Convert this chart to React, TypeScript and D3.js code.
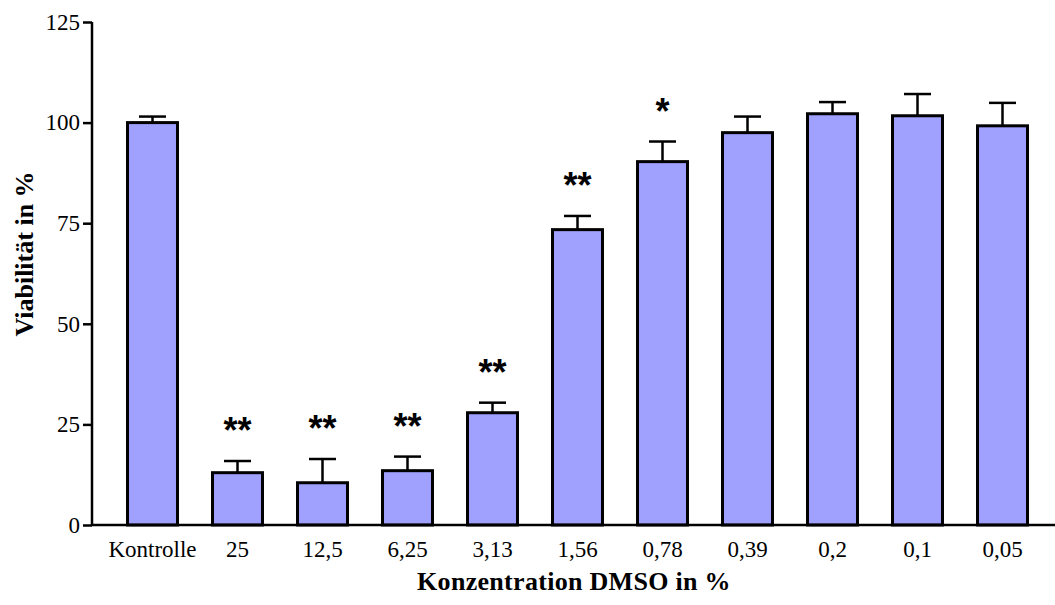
import React, { useRef, useEffect } from 'react';
import * as d3 from 'd3';

const categories = ['Kontrolle', '25', '12,5', '6,25', '3,13', '1,56', '0,78', '0,39', '0,2', '0,1', '0,05'];
const means = [100, 13.0, 10.5, 13.5, 27.9, 73.4, 90.3, 97.5, 102.2, 101.7, 99.2];
const errors = [1.5, 2.9, 5.9, 3.5, 2.5, 3.4, 5.0, 4.0, 2.9, 5.4, 5.7];
const stars = ['', '**', '**', '**', '**', '**', '*', '', '', '', ''];
const yTicks = [0, 25, 50, 75, 100, 125];

const App = () => {
  const ref = useRef<SVGSVGElement>(null);

  useEffect(() => {
    const svg = d3.select(ref.current);
    svg.selectAll('*').remove();

    const width = 1055;
    const height = 605;
    const axisX = 92;
    const serif = '"Liberation Serif", "Times New Roman", serif';

    const data = categories.map((c, i) => ({ c, m: means[i], e: errors[i], s: stars[i] }));

    const x = d3.scaleBand().domain(categories).range([110, 1045]).paddingInner(0.412).paddingOuter(0.206);
    const y = d3.scaleLinear().domain([0, 125]).range([525, 22]);

    // bars
    svg.append('g').selectAll('rect').data(data).join('rect')
      .attr('x', d => x(d.c)!).attr('y', d => y(d.m))
      .attr('width', x.bandwidth()).attr('height', d => y(0) - y(d.m))
      .attr('fill', '#a0a0ff').attr('stroke', '#000').attr('stroke-width', 3);

    // error bars (upper only)
    const capW = 27;
    const eb = svg.append('g').attr('stroke', '#000').attr('stroke-width', 2.5);
    eb.selectAll('line.v').data(data).join('line').attr('class', 'v')
      .attr('x1', d => x(d.c)! + x.bandwidth() / 2).attr('x2', d => x(d.c)! + x.bandwidth() / 2)
      .attr('y1', d => y(d.m)).attr('y2', d => y(d.m + d.e));
    eb.selectAll('line.h').data(data).join('line').attr('class', 'h')
      .attr('x1', d => x(d.c)! + x.bandwidth() / 2 - capW / 2).attr('x2', d => x(d.c)! + x.bandwidth() / 2 + capW / 2)
      .attr('y1', d => y(d.m + d.e)).attr('y2', d => y(d.m + d.e));

    // significance stars
    svg.append('g').selectAll('text').data(data.filter(d => d.s)).join('text')
      .attr('x', d => x(d.c)! + x.bandwidth() / 2).attr('y', d => y(d.m + d.e) - 18)
      .attr('text-anchor', 'middle').attr('font-family', '"Liberation Sans", Arial, sans-serif')
      .attr('font-weight', 'bold').attr('font-size', 36).text(d => d.s);

    // y axis
    const ya = svg.append('g').attr('transform', `translate(${axisX},0)`)
      .call(d3.axisLeft(y).tickValues(yTicks).tickSize(9).tickPadding(3));
    ya.select('.domain').attr('stroke-width', 2.5).attr('d', `M0,${y(125)}V${y(0)}`);
    ya.selectAll('.tick line').attr('stroke-width', 2.5);
    ya.selectAll('.tick text').attr('font-family', serif).attr('font-size', 23).attr('fill', '#000');

    // x axis
    svg.append('line').attr('x1', axisX).attr('x2', width).attr('y1', y(0)).attr('y2', y(0))
      .attr('stroke', '#000').attr('stroke-width', 2.5);
    svg.append('g').selectAll('text').data(categories).join('text')
      .attr('x', d => x(d)! + x.bandwidth() / 2).attr('y', 557)
      .attr('text-anchor', 'middle').attr('font-family', serif).attr('font-size', 23).text(d => d);

    // titles
    svg.append('text').attr('x', 574).attr('y', 590).attr('text-anchor', 'middle')
      .attr('font-family', serif).attr('font-weight', 'bold').attr('font-size', 26)
      .attr('letter-spacing', 0.3).text('Konzentration DMSO in %');
    svg.append('text').attr('transform', 'translate(33,254) rotate(-90)').attr('text-anchor', 'middle')
      .attr('font-family', serif).attr('font-weight', 'bold').attr('font-size', 26)
      .text('Viabilität in %');

    svg.attr('viewBox', `0 0 ${width} ${height}`);
  }, []);

  return <svg ref={ref} width={1055} height={605} style={{ position: 'absolute', left: 0, top: 0, background: '#fff' }} />;
};

export default App;
